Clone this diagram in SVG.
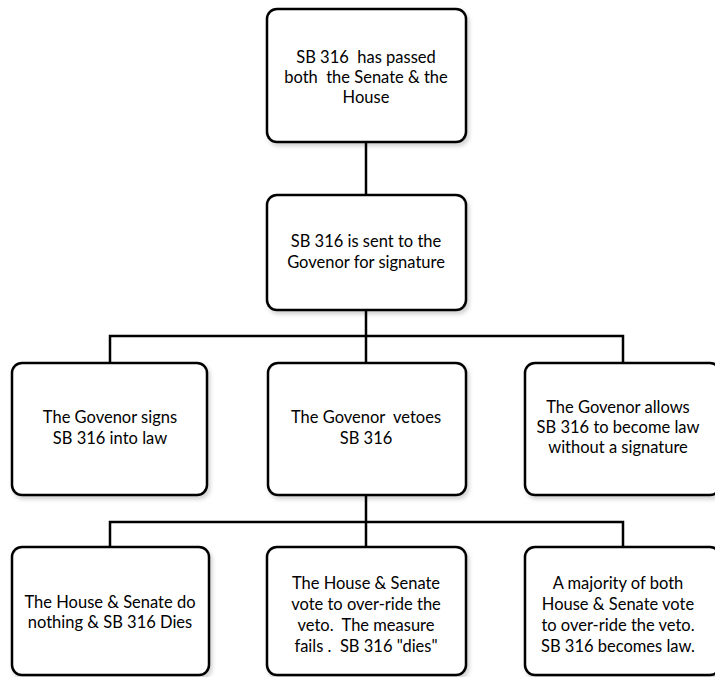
<svg xmlns="http://www.w3.org/2000/svg" width="715" height="677" viewBox="0 0 715 677">
<style>
.box{fill:#fff;stroke:#000;stroke-width:2.5;filter:url(#sh)}
.lbl{font-family:Lato,"Liberation Sans",sans-serif;font-size:16.5px;fill:#000;text-anchor:middle;white-space:pre}
.con{fill:none;stroke:#000;stroke-width:2.5}
</style>
<defs>
<filter id="sh" x="-10%" y="-10%" width="125%" height="125%">
<feDropShadow dx="2" dy="3" stdDeviation="2" flood-color="#000" flood-opacity="0.18"/>
</filter>
</defs>
<rect width="715" height="677" fill="#fff"/>
<g id="connectors">
<path class="con" d="M366 142V195"/>
<path class="con" d="M366 310V336M110 363V336H623V363M366 336V363"/>
<path class="con" d="M366 495V522M110 547V522H623V547M366 522V547"/>
</g>
<g id="n1">
<rect class="box" x="267" y="9" width="199" height="133" rx="10"/>
<text class="lbl" x="366" y="63" xml:space="preserve">SB 316  has passed</text>
<text class="lbl" x="366" y="83" xml:space="preserve">both  the Senate &amp; the</text>
<text class="lbl" x="366" y="103">House</text>
</g>
<g id="n2">
<rect class="box" x="267" y="195" width="199" height="115" rx="10"/>
<text class="lbl" x="366" y="247">SB 316 is sent to the</text>
<text class="lbl" x="366" y="268">Govenor for signature</text>
</g>
<g id="n3">
<rect class="box" x="12" y="363" width="195" height="132" rx="10"/>
<text class="lbl" x="110" y="423">The Govenor signs</text>
<text class="lbl" x="110" y="444">SB 316 into law</text>
</g>
<g id="n4">
<rect class="box" x="268" y="363" width="198" height="132" rx="10"/>
<text class="lbl" x="366" y="423" xml:space="preserve">The Govenor  vetoes</text>
<text class="lbl" x="366" y="444">SB 316</text>
</g>
<g id="n5">
<rect class="box" x="525" y="363" width="195" height="132" rx="10"/>
<text class="lbl" x="618" y="413">The Govenor allows</text>
<text class="lbl" x="618" y="433">SB 316 to become law</text>
<text class="lbl" x="618" y="453">without a signature</text>
</g>
<g id="n6">
<rect class="box" x="12" y="547" width="197" height="128" rx="10"/>
<text class="lbl" x="110" y="608">The House &amp; Senate do</text>
<text class="lbl" x="110" y="628">nothing &amp; SB 316 Dies</text>
</g>
<g id="n7">
<rect class="box" x="267" y="547" width="199" height="128" rx="10"/>
<text class="lbl" x="366" y="589">The House &amp; Senate</text>
<text class="lbl" x="366" y="610">vote to over-ride the</text>
<text class="lbl" x="366" y="631" xml:space="preserve">veto.  The measure</text>
<text class="lbl" x="366" y="652" xml:space="preserve">fails .  SB 316 "dies"</text>
</g>
<g id="n8">
<rect class="box" x="525" y="547" width="195" height="128" rx="10"/>
<text class="lbl" x="618" y="589">A majority of both</text>
<text class="lbl" x="618" y="610">House &amp; Senate vote</text>
<text class="lbl" x="618" y="631">to over-ride the veto.</text>
<text class="lbl" x="618" y="652">SB 316 becomes law.</text>
</g>
</svg>
